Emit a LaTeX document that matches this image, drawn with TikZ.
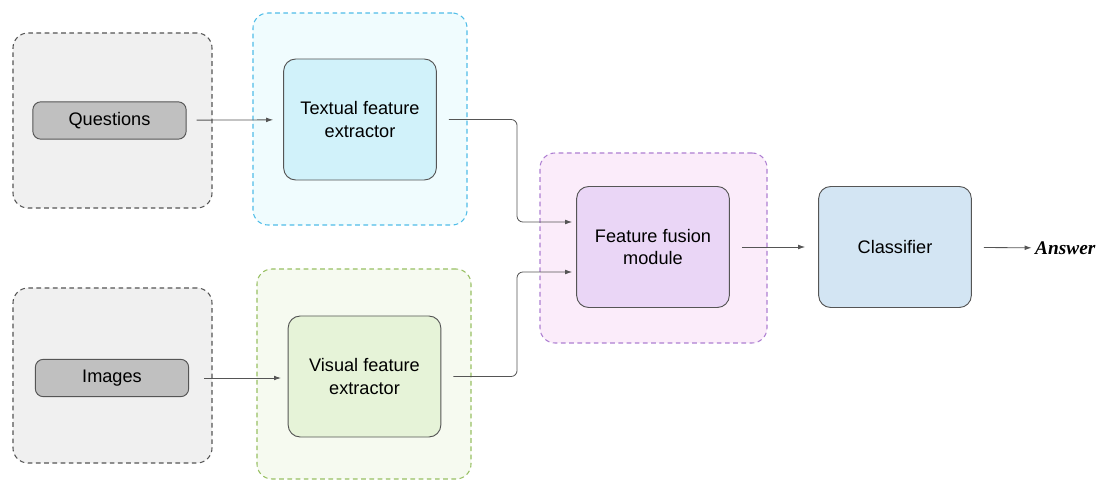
\documentclass[tikz,border=0pt]{standalone}
\usepackage{fontspec}
\setmainfont{Liberation Sans}
\newfontfamily\ansfont{Liberation Serif}
\usetikzlibrary{arrows.meta,positioning}

\definecolor{edgegray}{HTML}{555555}
\definecolor{groupgray}{HTML}{F0F0F0}
\definecolor{inputgray}{HTML}{C0C0C0}
\definecolor{textline}{HTML}{4FBDE8}
\definecolor{textback}{HTML}{F0FCFE}
\definecolor{textfill}{HTML}{D1F2FA}
\definecolor{visline}{HTML}{98C063}
\definecolor{visback}{HTML}{F6FAF0}
\definecolor{visfill}{HTML}{E6F3D8}
\definecolor{fuseline}{HTML}{AE7FD2}
\definecolor{fuseback}{HTML}{FBECFA}
\definecolor{fusefill}{HTML}{EAD6F6}
\definecolor{clsfill}{HTML}{D3E5F3}

\tikzset{
  group/.style={draw, dashed, dash pattern=on 4pt off 3pt, line width=0.9pt,
    rounded corners=0.45cm, minimum width=#1},
  inbox/.style={draw=edgegray, fill=inputgray, line width=0.8pt, rounded corners=0.24cm,
    minimum width=4.6cm, minimum height=1.12cm},
  block/.style={draw=edgegray, line width=0.8pt, rounded corners=0.36cm,
    minimum width=4.58cm, minimum height=3.63cm, align=center, fill=#1},
  link/.style={draw=edgegray, line width=0.7pt, -{Latex[length=6pt,width=4pt]}},
  every node/.style={font=\fontsize{15.5}{19}\selectfont, text=black}
}

\begin{document}
\begin{tikzpicture}[x=0.03cm, y=-0.03cm]
  \useasboundingbox (0,0) rectangle (1096,480);

  % input groups
  \node[group=5.97cm, draw=edgegray, fill=groupgray, minimum height=5.25cm] (qgroup) at (112.5,120.5) {};
  \node[group=5.97cm, draw=edgegray, fill=groupgray, minimum height=5.25cm] (igroup) at (112.5,375.5) {};
  \node[inbox] (questions) at (109.5,120.5) {Questions};
  \node[inbox] (images) at (112,378) {Images};

  % feature extractors
  \node[group=6.42cm, draw=textline, fill=textback, minimum height=6.36cm] (tgroup) at (360,119) {};
  \node[group=6.42cm, draw=visline, fill=visback, minimum height=6.3cm] (vgroup) at (364,374) {};
  \node[block=textfill] (textual) at (360,119.5) {Textual feature\\extractor};
  \node[block=visfill] (visual) at (364.5,376.5) {Visual feature\\extractor};

  % fusion and classifier
  \node[group=6.81cm, draw=fuseline, fill=fuseback, minimum height=5.7cm] (fgroup) at (653.5,248) {};
  \node[block=fusefill] (fusion) at (653,247) {Feature fusion\\module};
  \node[block=clsfill] (classifier) at (895,247) {Classifier};
  \node[anchor=west, inner sep=0pt, font=\fontsize{16.5}{19}\selectfont\ansfont\bfseries\itshape]
    (answer) at (1035,248) {Answer};

  \draw[link, shorten <=0.3cm, shorten >=0.3cm] (questions) -- (textual);
  \draw[link, shorten <=0.45cm, shorten >=0.2cm] (images.east) -- (images.east -| visual.west);
  \draw[link, rounded corners=5pt, shorten <=0.36cm, shorten >=0.12cm]
    (textual.east) -| (517,222) -- (fusion.west |- 0,222);
  \draw[link, rounded corners=5pt, shorten <=0.36cm, shorten >=0.12cm]
    (visual.east) -| (517,272) -- (fusion.west |- 0,272);
  \draw[link, shorten <=0.36cm, shorten >=0.39cm] (fusion) -- (classifier);
  \draw[link, shorten <=0.36cm, shorten >=0.1cm] (classifier) -- (answer);
\end{tikzpicture}
\end{document}
